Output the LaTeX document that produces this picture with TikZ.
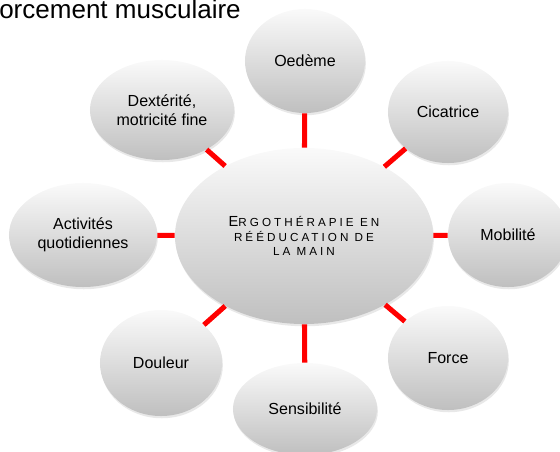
\documentclass[tikz,border=0pt]{standalone}
\usepackage{fontspec}
\setmainfont{Liberation Sans}
\newfontfamily\spacedfont[LetterSpace=26]{Liberation Sans}
\usetikzlibrary{shapes.geometric, shadows}
\tikzset{
  every picture/.style={font={\fontsize{11.4}{13.5}\selectfont}},
  link/.style={draw=red, line width=3.6pt}}

\begin{document}
\begin{tikzpicture}[x=0.025cm, y=-0.025cm]
    \tikzstyle{bubble}=[ellipse, top color=black!2, bottom color=black!25, align=center, inner sep=0pt,
      drop shadow={shadow xshift=0.6pt, shadow yshift=-1.6pt, opacity=0.18}]

    \useasboundingbox (0, 0) rectangle (560, 452);
    \clip (0, 0) rectangle (560, 452);

    \node[anchor=base west, inner sep=0pt, font=\fontsize{18.5}{20}\selectfont] (T) at (-1, 19) {orcement musculaire};

    \node[bubble] (E) at (304, 236) [minimum width=6.45cm, minimum height=4.4cm,
      font=\spacedfont\fontsize{8.3}{10.3}\selectfont]
      {{\fontsize{10.4}{10.3}\selectfont E}RGOTHÉRAPIE EN\\RÉÉDUCATION DE\\LA MAIN};

    \begin{scope}[every node/.append style={bubble}]
      \node (O)  at (305, 61)  [minimum width=3cm,   minimum height=2.6cm]  {Oedème};
      \node (C)  at (448, 112) [minimum width=3cm,   minimum height=2.55cm] {Cicatrice};
      \node (Mo) at (508, 235) [minimum width=3cm,   minimum height=2.6cm]  {Mobilité};
      \node (F)  at (448, 358) [minimum width=3cm,   minimum height=2.6cm]  {Force};
      \node (S)  at (305, 409) [minimum width=3.6cm, minimum height=2.3cm]  {Sensibilité};
      \node (Do) at (161, 363) [minimum width=3.05cm, minimum height=2.65cm] {Douleur};
      \node (A)  at (83, 235)  [minimum width=3.7cm, minimum height=2.6cm]  {Activités\\quotidiennes};
      \node (De) at (162, 110) [minimum width=3.6cm, minimum height=2.5cm]  {Dextérité,\\motricité fine};
    \end{scope}

    \begin{scope}
      \draw[link] (E) to (O);
      \draw[link] (E) to (C);
      \draw[link] (E) to (Mo);
      \draw[link] (E) to (F);
      \draw[link] (E) to (S);
      \draw[link] (E) to (Do);
      \draw[link] (E) to (A);
      \draw[link] (E) to (De);
    \end{scope}
  \end{tikzpicture}
\end{document}
